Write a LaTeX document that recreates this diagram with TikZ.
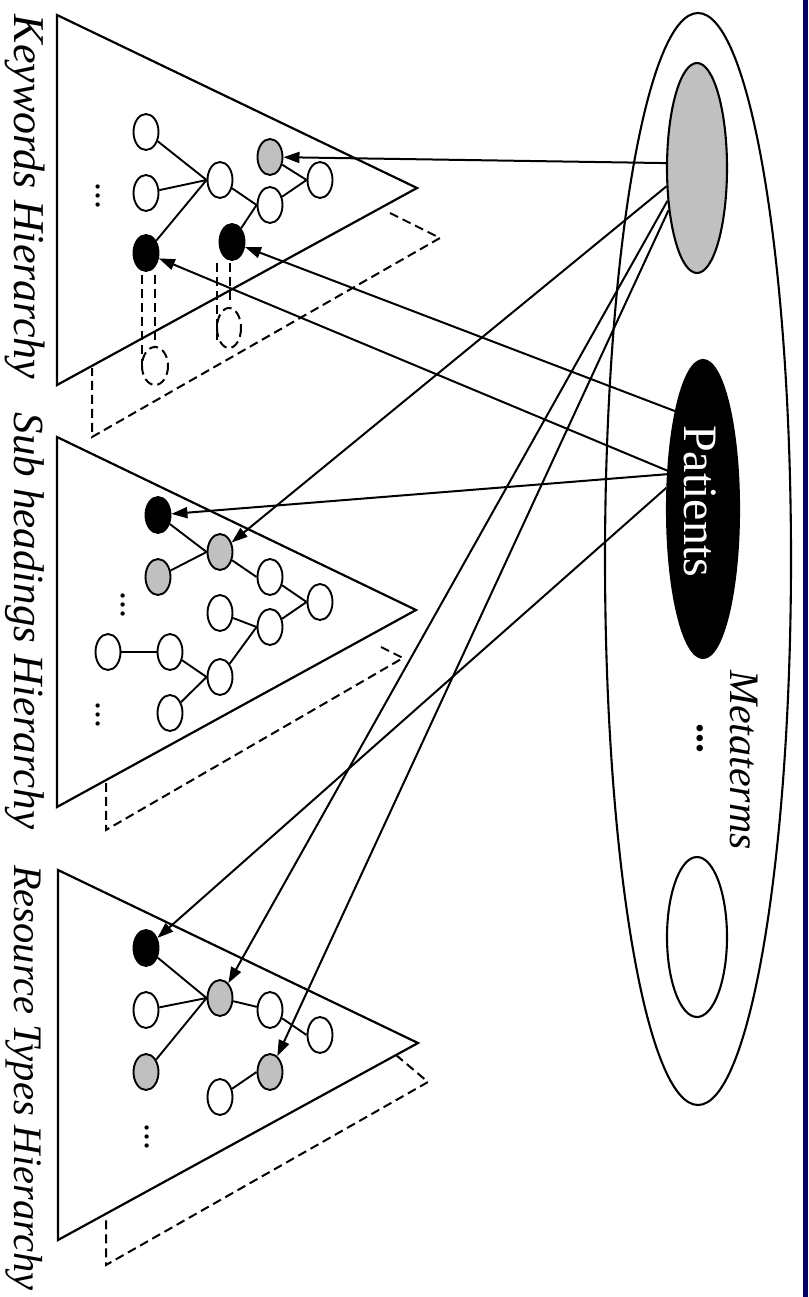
\documentclass[tikz,border=0pt]{standalone}
\usepackage{fontspec}
\setmainfont{Liberation Serif}
\usetikzlibrary{shapes.geometric,arrows.meta}
\definecolor{navyb}{RGB}{0,0,112}
\definecolor{silv}{RGB}{192,192,192}
\begin{document}
\begin{tikzpicture}[x=1pt,y=-1pt,
  tn/.style={ellipse, draw, line width=1.9pt, minimum width=25pt, minimum height=36pt, inner sep=0pt},
  wn/.style={tn, fill=white},
  gn/.style={tn, fill=silv},
  bn/.style={tn, fill=black},
  tri/.style={draw, line width=2.2pt, line join=miter},
  back/.style={draw, line width=2pt, dash pattern=on 9pt off 5pt},
  arr/.style={draw, line width=2pt, -{Triangle[length=16pt,width=11pt]}},
  tedge/.style={draw, line width=1.9pt},
  lab/.style={rotate=-90, anchor=base, inner sep=0pt},
  dots/.style={rotate=-90, anchor=center, inner sep=0pt, font=\fontsize{36}{36}\selectfont},
]
\useasboundingbox (0,0) rectangle (808,1297);
\fill[white] (0,0) rectangle (808,1297);
\fill[navyb] (803,0) rectangle (808,1297);

% ---------- triangles ----------
\draw[tri] (57,15) -- (417,188) -- (57,385) -- cycle;
\draw[tri] (57,437) -- (416,610) -- (57,807) -- cycle;
\draw[tri] (58,870) -- (418,1043) -- (58,1240) -- cycle;

% back (dashed) triangles
\draw[back] (390,213) -- (440,238) -- (92,437) -- (92,368);
\draw[back] (381,647) -- (403,658) -- (106,830) -- (106,783);
\draw[back] (396,1055) -- (428,1082) -- (106,1265) -- (106,1216);

% dashed projections in keywords
\draw[back] (142,275) -- (142,372);
\draw[back] (155,275) -- (155,345);
\draw[back] (155,366) ellipse [x radius=13, y radius=19];
\draw[back] (217,263) -- (217,340);
\draw[back] (230,263) -- (230,305);
\draw[back] (229,328) ellipse [x radius=12, y radius=20];

% ---------- Keywords tree ----------
\node[wn] (n1) at (146,132) {};
\node[wn] (n2) at (146,193) {};
\node[wn] (n3) at (220,180) {};
\node[gn] (n4) at (270,157) {};
\node[wn] (n5) at (320,180) {};
\node[wn] (n6) at (270,205) {};
\node[bn] (n7) at (146,253) {};
\node[bn] (n8) at (232,242) {};
\draw[tedge] (n1) -- (n3.west);
\draw[tedge] (n2) -- (n3.west);
\draw[tedge] (n7) -- (n3.west);
\draw[tedge] (n3) -- (n6.west);
\draw[tedge] (n6) -- (n5.west);
\draw[tedge] (n4) -- (n5.west);
\draw[tedge] (n8) -- (n6.west);
\node[dots] (kd) at (98,196) {...};

% ---------- Sub headings tree ----------
\node[bn] (s1) at (158,515) {};
\node[gn] (s2) at (220,552) {};
\node[gn] (s3) at (158,577) {};
\node[wn] (s4) at (270,577) {};
\node[wn] (s5) at (320,602) {};
\node[wn] (s6) at (220,613) {};
\node[wn] (s7) at (270,627) {};
\node[wn] (s8) at (108,652) {};
\node[wn] (s9) at (170,652) {};
\node[wn] (s10) at (220,677) {};
\node[wn] (s11) at (170,713) {};
\draw[tedge] (s1) -- (s2.west);
\draw[tedge] (s3) -- (s2.west);
\draw[tedge] (s2) -- (s4.west);
\draw[tedge] (s4) -- (s5.west);
\draw[tedge] (s7) -- (s5.west);
\draw[tedge] (s6) -- (s7.west);
\draw[tedge] (s10) -- (s7.west);
\draw[tedge] (s8) -- (s9);
\draw[tedge] (s9) -- (s10.west);
\draw[tedge] (s11) -- (s10.west);
\node[dots] (sd1) at (123,605) {...};
\node[dots] (sd2) at (98,715) {...};

% ---------- Resource types tree ----------
\node[bn] (r1) at (146,948) {};
\node[gn] (r2) at (220,998) {};
\node[wn] (r3) at (146,1010) {};
\node[wn] (r4) at (270,1010) {};
\node[wn] (r5) at (320,1035) {};
\node[gn] (r6) at (146,1072) {};
\node[gn] (r7) at (270,1072) {};
\node[wn] (r8) at (220,1097) {};
\draw[tedge] (r1) -- (r2.west);
\draw[tedge] (r3) -- (r2.west);
\draw[tedge] (r6) -- (r2.west);
\draw[tedge] (r2) -- (r4);
\draw[tedge] (r4) -- (r5.west);
\draw[tedge] (r8) -- (r7.west);
\node[dots] (rd) at (147,1137) {...};

% ---------- Metaterms ----------
\node[ellipse, draw, line width=2.1pt, minimum width=186pt, minimum height=1092pt, inner sep=0pt] (meta) at (698,559) {};
\node[ellipse, draw, line width=2.1pt, fill=silv, minimum width=60pt, minimum height=210pt, inner sep=0pt] (g) at (697,168) {};
\node[ellipse, draw, line width=2.1pt, fill=black, minimum width=72pt, minimum height=298pt, inner sep=0pt] (pat) at (703,509) {};
\node[lab, text=white, font=\fontsize{48}{50}\selectfont] (patt) at (684,501) {Patients};
\node[ellipse, draw, line width=2.1pt, fill=white, minimum width=60pt, minimum height=160pt, inner sep=0pt] (e3) at (697,937) {};
\node[lab, font=\itshape\fontsize{42}{44}\selectfont] (mt) at (730,760) {Metaterms};
\node[dots, font=\bfseries\fontsize{40}{40}\selectfont] (md) at (700,738) {...};

% ---------- arrows ----------
\draw[arr] (g.171) -- (n4);
\draw[arr] (g.211) -- (s2);
\draw[arr] (g.228) -- (r2);
\draw[arr] (g.236) -- (r7);
\draw[arr] (pat.106) -- (n8);
\draw[arr] (pat.133) -- (n7);
\draw[arr] (pat.136) -- (s1);
\draw[arr] (pat.150) -- (r1);

% ---------- labels ----------
\node[lab, font=\itshape\fontsize{44}{46}\selectfont] (kl) at (14,197) {Keywords Hierarchy};
\node[lab, font=\itshape\fontsize{43}{46}\selectfont] (sl) at (14,621) {Sub headings Hierarchy};
\node[lab, font=\itshape\fontsize{40.5}{44}\selectfont] (rl) at (14,1078) {Resource Types Hierarchy};
\end{tikzpicture}
\end{document}
